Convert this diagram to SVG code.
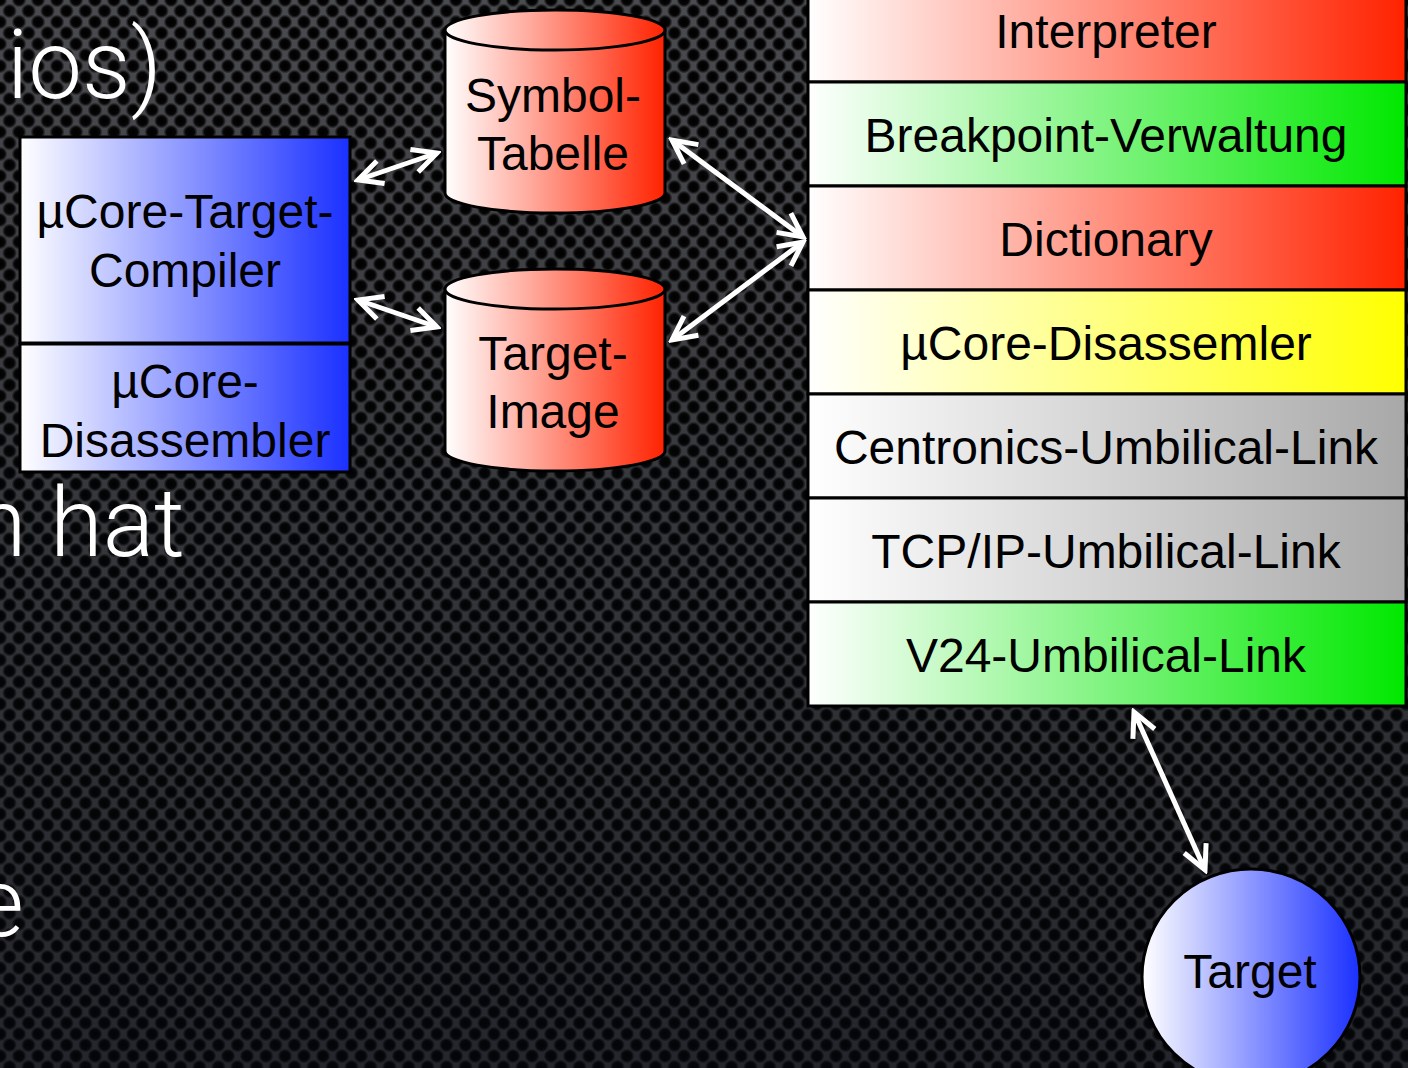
<svg xmlns="http://www.w3.org/2000/svg" width="1408" height="1068" viewBox="0 0 1408 1068">
<style>
.lbl{font-family:"Liberation Sans",Arial,sans-serif;font-size:48px;fill:#000;text-anchor:middle}
.slide{font-family:Roboto,"Liberation Sans",sans-serif;font-weight:300;font-size:96px;fill:#fff;text-anchor:end}
.box{stroke:#000;stroke-width:3}
.conn{stroke:#fff;stroke-width:5;fill:none}
</style>
<defs>
<radialGradient id="hole">
<stop offset="0" stop-color="#000"/>
<stop offset="0.6" stop-color="#050505"/>
<stop offset="1" stop-color="#000" stop-opacity="0"/>
</radialGradient>
<pattern id="perf" x="0" y="0" width="19" height="22" patternUnits="userSpaceOnUse">
<rect width="19" height="22" fill="#4a4b4f"/>
<circle cx="0" cy="0" r="7.5" fill="url(#hole)"/>
<circle cx="19" cy="0" r="7.5" fill="url(#hole)"/>
<circle cx="0" cy="22" r="7.5" fill="url(#hole)"/>
<circle cx="19" cy="22" r="7.5" fill="url(#hole)"/>
<circle cx="9.5" cy="11" r="7.5" fill="url(#hole)"/>
</pattern>
<linearGradient id="shade" x1="0" y1="0" x2="0" y2="1">
<stop offset="0" stop-color="#000" stop-opacity="0"/>
<stop offset="0.5" stop-color="#05080c" stop-opacity="0.3"/>
<stop offset="1" stop-color="#05080e" stop-opacity="0.55"/>
</linearGradient>
<linearGradient id="red"><stop offset="0" stop-color="#fff"/><stop offset="1" stop-color="#ff2200"/></linearGradient>
<linearGradient id="green"><stop offset="0" stop-color="#fff"/><stop offset="1" stop-color="#00e800"/></linearGradient>
<linearGradient id="yellow"><stop offset="0" stop-color="#fff"/><stop offset="1" stop-color="#ffff00"/></linearGradient>
<linearGradient id="gray"><stop offset="0" stop-color="#fff"/><stop offset="1" stop-color="#a8a8a8"/></linearGradient>
<linearGradient id="blue"><stop offset="0" stop-color="#fff"/><stop offset="1" stop-color="#1a30ff"/></linearGradient>
<marker id="ah" markerUnits="userSpaceOnUse" viewBox="-30 -16 34 32" markerWidth="34" markerHeight="32" refX="0" refY="0" orient="auto-start-reverse">
<path d="M-24,-12 L0,0 L-24,12" fill="none" stroke="#fff" stroke-width="5"/>
</marker>
</defs>
<rect width="1408" height="1068" fill="url(#perf)"/>
<rect width="1408" height="1068" fill="url(#shade)"/>
<g id="slide-text">
<text class="slide" x="162" y="98">nios)</text>
<text class="slide" x="185" y="556">n hat</text>
<text class="slide" x="24" y="936">e</text>
</g>
<g id="compiler">
<rect class="box" x="20" y="137" width="330" height="206" fill="url(#blue)"/>
<text class="lbl" x="185" y="228">µCore-Target-</text>
<text class="lbl" x="185" y="287">Compiler</text>
</g>
<g id="disassembler">
<rect class="box" x="20" y="344" width="330" height="128" fill="url(#blue)"/>
<text class="lbl" x="185" y="398">µCore-</text>
<text class="lbl" x="185" y="457">Disassembler</text>
</g>
<g id="symboltabelle">
<path class="box" d="M445,30 L445,193 A110,20 0 0 0 665,193 L665,30 Z" fill="url(#red)"/>
<ellipse class="box" cx="555" cy="30" rx="110" ry="20" fill="url(#red)"/>
<text class="lbl" x="553" y="112">Symbol-</text>
<text class="lbl" x="553" y="170">Tabelle</text>
</g>
<g id="targetimage">
<path class="box" d="M445,289 L445,451 A110,20 0 0 0 665,451 L665,289 Z" fill="url(#red)"/>
<ellipse class="box" cx="555" cy="289" rx="110" ry="20" fill="url(#red)"/>
<text class="lbl" x="553" y="370">Target-</text>
<text class="lbl" x="553" y="428">Image</text>
</g>
<g id="interpreter">
<rect class="box" x="808" y="-22" width="598" height="104" fill="url(#red)"/>
<text class="lbl" x="1106" y="48">Interpreter</text>
</g>
<g id="breakpoint">
<rect class="box" x="808" y="82" width="598" height="104" fill="url(#green)"/>
<text class="lbl" x="1106" y="152">Breakpoint-Verwaltung</text>
</g>
<g id="dictionary">
<rect class="box" x="808" y="186" width="598" height="104" fill="url(#red)"/>
<text class="lbl" x="1106" y="256">Dictionary</text>
</g>
<g id="disassemler">
<rect class="box" x="808" y="290" width="598" height="104" fill="url(#yellow)"/>
<text class="lbl" x="1106" y="360">µCore-Disassemler</text>
</g>
<g id="centronics">
<rect class="box" x="808" y="394" width="598" height="104" fill="url(#gray)"/>
<text class="lbl" x="1106" y="464">Centronics-Umbilical-Link</text>
</g>
<g id="tcpip">
<rect class="box" x="808" y="498" width="598" height="104" fill="url(#gray)"/>
<text class="lbl" x="1106" y="568">TCP/IP-Umbilical-Link</text>
</g>
<g id="v24">
<rect class="box" x="808" y="602" width="598" height="104" fill="url(#green)"/>
<text class="lbl" x="1106" y="672">V24-Umbilical-Link</text>
</g>
<g id="target">
<ellipse class="box" cx="1251" cy="977" rx="109" ry="108" fill="url(#blue)"/>
<text class="lbl" x="1250" y="988">Target</text>
</g>
<g id="connectors">
<line class="conn" x1="358" y1="180" x2="437" y2="153" marker-start="url(#ah)" marker-end="url(#ah)"/>
<line class="conn" x1="358" y1="300" x2="437" y2="327" marker-start="url(#ah)" marker-end="url(#ah)"/>
<line class="conn" x1="672" y1="140" x2="803" y2="237" marker-start="url(#ah)" marker-end="url(#ah)"/>
<line class="conn" x1="672" y1="340" x2="803" y2="242" marker-start="url(#ah)" marker-end="url(#ah)"/>
<line class="conn" x1="1134" y1="712" x2="1205" y2="870" marker-start="url(#ah)" marker-end="url(#ah)"/>
</g>
</svg>
